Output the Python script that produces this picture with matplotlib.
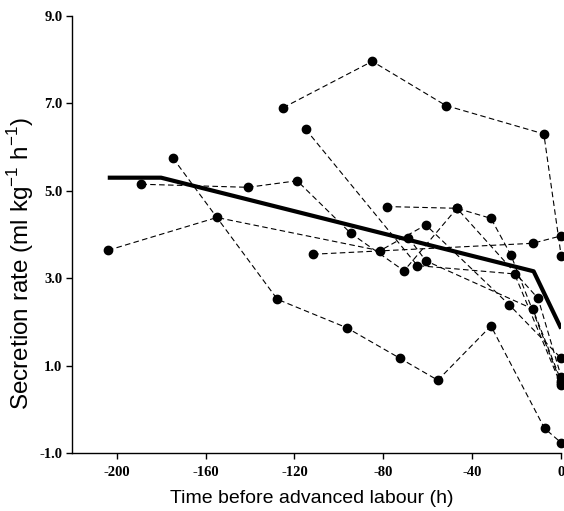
import matplotlib
matplotlib.use("Agg")
import matplotlib.pyplot as plt

plt.rcParams['axes.unicode_minus'] = False

# Individual series (time in h before advanced labour, secretion rate)
a_x = [-125.1, -85.0, -51.9, -7.8, 0.0]
a_y = [6.90, 7.96, 6.95, 6.30, 3.51]
b_x = [-115.0, -64.7, -21.0, 0.0]
b_y = [6.41, 3.29, 3.10, 0.55]
c_x = [-203.9, -154.9, -81.5, -60.9, -23.5, 0.0]
c_y = [3.64, 4.39, 3.63, 4.22, 2.40, 1.17]
d_x = [-111.6, -12.8, 0.0]
d_y = [3.55, 3.80, 3.97]
e_x = [-174.7, -127.7, -96.5, -72.5, -55.5, -31.6, -7.5, 0.0]
e_y = [5.75, 2.52, 1.87, 1.17, 0.67, 1.91, -0.43, -0.76]
f_x = [-188.9, -140.9, -118.8, -94.7, -70.7, -46.9, -10.4, 0.0]
f_y = [5.15, 5.08, 5.23, 4.03, 3.17, 4.60, 2.54, 0.75]
g_x = [-78.5, -46.9, -31.6, -22.6, 0.0]
g_y = [4.64, 4.60, 4.37, 3.53, 0.60]
h_x = [-68.7, -60.9, -12.8, 0.0]
h_y = [3.93, 3.40, 2.30, 0.65]

# Mean (thick) line
mean_x = [-204.0, -180.0, -12.4, 0.0]
mean_y = [5.30, 5.30, 3.16, 1.85]

x_ticks = [-200, -160, -120, -80, -40, 0]
y_ticks = [-1.0, 1.0, 3.0, 5.0, 7.0, 9.0]

fig = plt.figure(figsize=(5.64, 5.11), dpi=100)
ax = fig.add_axes([0.128, 0.113, 0.867, 0.856])

series = [(a_x, a_y), (b_x, b_y), (c_x, c_y), (d_x, d_y),
          (e_x, e_y), (f_x, f_y), (g_x, g_y), (h_x, h_y)]
for sx, sy in series:
    ax.plot(sx, sy, color='black', lw=0.8, dashes=(5, 3),
            marker='o', markersize=6, markerfacecolor='black',
            markeredgecolor='black', clip_on=False, zorder=3)

ax.plot(mean_x, mean_y, color='black', lw=3, solid_capstyle='butt', zorder=4)

ax.set_xlim(-220, 0)
ax.set_ylim(-1.0, 9.0)
ax.set_xticks(x_ticks)
ax.set_yticks(y_ticks)
ax.set_xticklabels([str(t) for t in x_ticks])
ax.set_yticklabels(['%.1f' % t for t in y_ticks])
for lab in ax.get_xticklabels() + ax.get_yticklabels():
    lab.set_fontfamily('Liberation Serif')
    lab.set_fontweight('bold')
    lab.set_fontsize(10.5)

ax.spines['top'].set_visible(False)
ax.spines['right'].set_visible(False)
ax.spines['left'].set_linewidth(1.0)
ax.spines['bottom'].set_linewidth(1.0)
ax.tick_params(axis='both', direction='out', length=4, width=1)
ax.tick_params(axis='x', pad=5)
ax.tick_params(axis='y', pad=3)

ax.set_xlabel('Time before advanced labour (h)', fontfamily='Liberation Sans',
              fontsize=14)
ax.xaxis.set_label_coords(0.49, -0.085)
ax.set_ylabel('Secretion rate (ml kg$^{\\mathregular{-1}}$ h$^{\\mathregular{-1}}$)',
              fontfamily='Liberation Sans', fontsize=17.5)
ax.yaxis.set_label_coords(-0.075, 0.435)

fig.savefig('out.png', dpi=100)
